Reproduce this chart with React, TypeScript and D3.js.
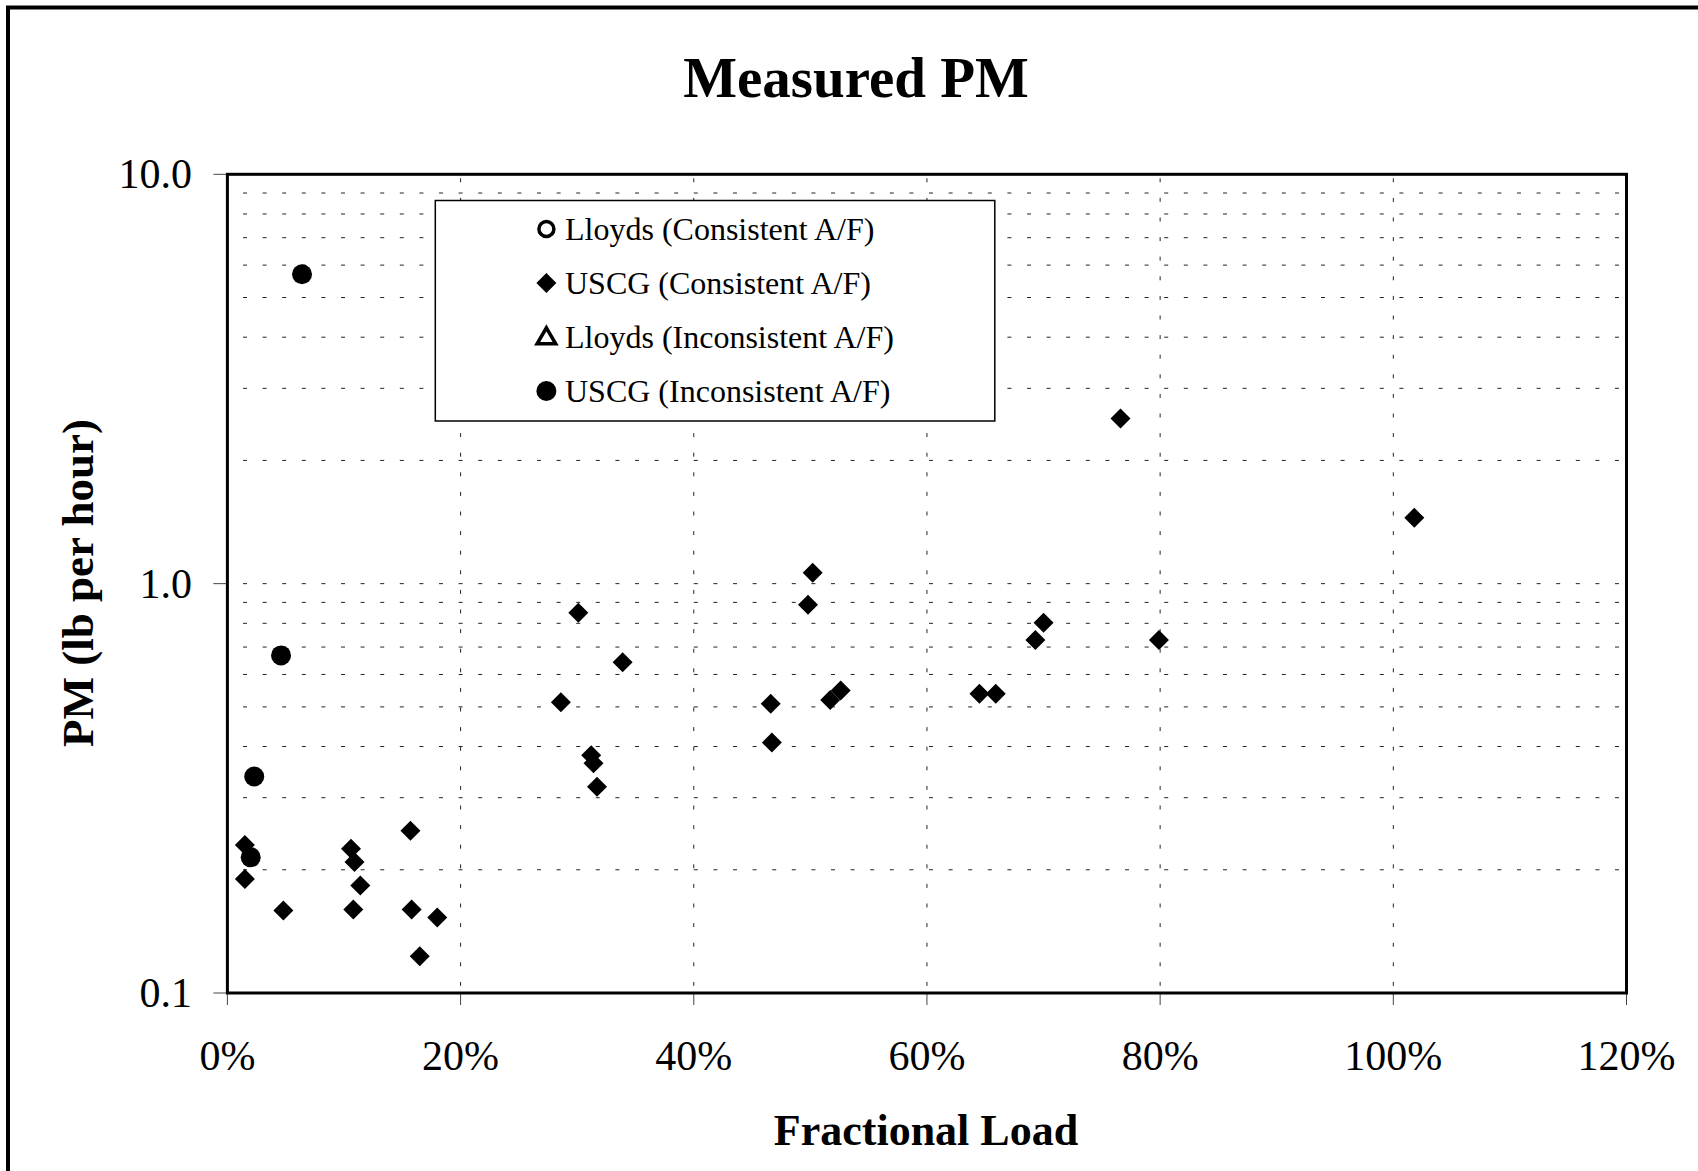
import React from "react";
import * as d3 from "d3";

// ---- Data ----
const uscgConsistentLoad = [
  0.015, 0.015, 0.048, 0.106, 0.109, 0.114, 0.108, 0.157, 0.158, 0.180, 0.165,
  0.286, 0.301, 0.312, 0.314, 0.317, 0.339,
  0.466, 0.467, 0.498, 0.502, 0.517, 0.526,
  0.645, 0.659, 0.693, 0.700, 0.766, 0.799, 1.018,
];
const uscgConsistentPM = [
  0.230, 0.190, 0.159, 0.225, 0.209, 0.183, 0.160, 0.249, 0.160, 0.153, 0.123,
  0.513, 0.849, 0.381, 0.364, 0.319, 0.643,
  0.509, 0.409, 0.888, 1.063, 0.520, 0.548,
  0.538, 0.538, 0.728, 0.803, 2.533, 0.728, 1.449,
];
const uscgInconsistentLoad = [0.064, 0.046, 0.023, 0.020];
const uscgInconsistentPM = [5.70, 0.668, 0.338, 0.2145];
const lloydsConsistentLoad: number[] = [];
const lloydsConsistentPM: number[] = [];
const lloydsInconsistentLoad: number[] = [];
const lloydsInconsistentPM: number[] = [];

const xTicks = [0, 0.2, 0.4, 0.6, 0.8, 1.0, 1.2];
const yTicks = [0.1, 1, 10];
const yTickLabels = ["0.1", "1.0", "10.0"];
const legendLabels = [
  "Lloyds (Consistent A/F)",
  "USCG (Consistent A/F)",
  "Lloyds (Inconsistent A/F)",
  "USCG (Inconsistent A/F)",
];
const title = "Measured PM";
const xTitle = "Fractional Load";
const yTitle = "PM (lb per hour)";

// ---- Layout ----
const W = 1698;
const H = 1171;
const plot = { left: 227.4, right: 1626.5, top: 174.3, bottom: 993 };
const FONT = "'Liberation Serif', 'Times New Roman', serif";

const x = d3.scaleLinear().domain([0, 1.2]).range([plot.left, plot.right]);
const y = d3.scaleLog().domain([0.1, 10]).range([plot.bottom, plot.top]);

const diamondPath = d3.symbol().type(d3.symbolSquare).size(200)()!;
const circlePath = d3.symbol().type(d3.symbolCircle).size(Math.PI * 10 * 10)()!;
const openCirclePath = d3.symbol().type(d3.symbolCircle).size(Math.PI * 7.5 * 7.5)()!;
const trianglePath = d3.symbol().type(d3.symbolTriangle).size(150)()!;

function minorGrid(): number[] {
  const vals: number[] = [];
  [0.1, 1].forEach((d) => {
    for (let k = 2; k <= 9; k++) vals.push(d * k);
  });
  vals.push(1);
  return vals;
}

export default function App() {
  const hGrid = minorGrid();
  const vGrid = xTicks.filter((t) => t > 0 && t < 1.2);
  const fmtPct = d3.format(".0%");

  const legendX = 435.3;
  const legendY = 200.5;
  const legendW = 559.5;
  const legendH = 220.5;
  const rowBase = (i: number) => 239.5 + i * 54;

  return (
    <svg
      width={W}
      height={H}
      style={{ position: "absolute", left: 0, top: 0, display: "block", background: "#fff" }}
      fontFamily={FONT}
    >
      <rect x={0} y={0} width={W} height={H} fill="#fff" />
      {/* outer chart border */}
      <rect x={8} y={7.5} width={W + 20} height={H + 20} fill="none" stroke="#000" strokeWidth={4} />

      {/* title */}
      <text x={856} y={97} textAnchor="middle" fontSize={57} fontWeight="bold">
        {title}
      </text>

      {/* gridlines */}
      <g stroke="#222" strokeWidth={1} strokeDasharray="4 15.6">
        {hGrid.map((v, i) => (
          <line key={"h" + i} x1={plot.left + 15.6} x2={plot.right} y1={y(v)} y2={y(v)} />
        ))}
        {vGrid.map((v, i) => (
          <line key={"v" + i} x1={x(v)} x2={x(v)} y1={plot.top + 4} y2={plot.bottom} />
        ))}
      </g>

      {/* ticks */}
      <g stroke="#444" strokeWidth={1}>
        {xTicks.map((t, i) => (
          <line key={"xt" + i} x1={x(t)} x2={x(t)} y1={plot.bottom} y2={plot.bottom + 12} />
        ))}
        {yTicks.map((t, i) => (
          <line key={"yt" + i} x1={plot.left - 14} x2={plot.left} y1={y(t)} y2={y(t)} />
        ))}
      </g>

      {/* plot area border */}
      <rect
        x={plot.left}
        y={plot.top}
        width={plot.right - plot.left}
        height={plot.bottom - plot.top}
        fill="none"
        stroke="#000"
        strokeWidth={3}
      />

      {/* tick labels */}
      <g fontSize={42}>
        {xTicks.map((t, i) => (
          <text key={"xl" + i} x={x(t)} y={1070} textAnchor="middle">
            {fmtPct(t)}
          </text>
        ))}
        {yTicks.map((t, i) => (
          <text key={"yl" + i} x={192} y={y(t) + 14} textAnchor="end">
            {yTickLabels[i]}
          </text>
        ))}
      </g>

      {/* axis titles */}
      <text x={926} y={1145} textAnchor="middle" fontSize={44} fontWeight="bold">
        {xTitle}
      </text>
      <text
        transform={`translate(93,583) rotate(-90)`}
        textAnchor="middle"
        fontSize={45}
        fontWeight="bold"
      >
        {yTitle}
      </text>

      {/* data */}
      <g fill="#000">
        {uscgConsistentLoad.map((l, i) => (
          <path
            key={"d" + i}
            d={diamondPath}
            transform={`translate(${x(l)},${y(uscgConsistentPM[i])}) rotate(45)`}
          />
        ))}
        {uscgInconsistentLoad.map((l, i) => (
          <path key={"c" + i} d={circlePath} transform={`translate(${x(l)},${y(uscgInconsistentPM[i])})`} />
        ))}
        {lloydsConsistentLoad.map((l, i) => (
          <path
            key={"oc" + i}
            d={openCirclePath}
            fill="none"
            stroke="#000"
            strokeWidth={3.5}
            transform={`translate(${x(l)},${y(lloydsConsistentPM[i])})`}
          />
        ))}
        {lloydsInconsistentLoad.map((l, i) => (
          <path
            key={"tr" + i}
            d={trianglePath}
            fill="none"
            stroke="#000"
            strokeWidth={3.5}
            transform={`translate(${x(l)},${y(lloydsInconsistentPM[i])})`}
          />
        ))}
      </g>

      {/* legend */}
      <g>
        <rect x={legendX} y={legendY} width={legendW} height={legendH} fill="#fff" stroke="#000" strokeWidth={1.5} />
        {legendLabels.map((lab, i) => {
          const cy = rowBase(i) - 10.5;
          const cx = 546.4;
          let marker: React.ReactNode = null;
          if (i === 0)
            marker = (
              <path d={openCirclePath} fill="none" stroke="#000" strokeWidth={3.5} transform={`translate(${cx},${cy})`} />
            );
          else if (i === 1)
            marker = <path d={diamondPath} fill="#000" transform={`translate(${cx},${cy}) rotate(45)`} />;
          else if (i === 2)
            marker = (
              <path d={trianglePath} fill="none" stroke="#000" strokeWidth={3.5} strokeLinejoin="miter" transform={`translate(${cx},${cy + 1.5})`} />
            );
          else marker = <path d={circlePath} fill="#000" transform={`translate(${cx},${cy})`} />;
          return (
            <g key={"lg" + i}>
              {marker}
              <text x={565} y={rowBase(i)} fontSize={32}>
                {lab}
              </text>
            </g>
          );
        })}
      </g>
    </svg>
  );
}
